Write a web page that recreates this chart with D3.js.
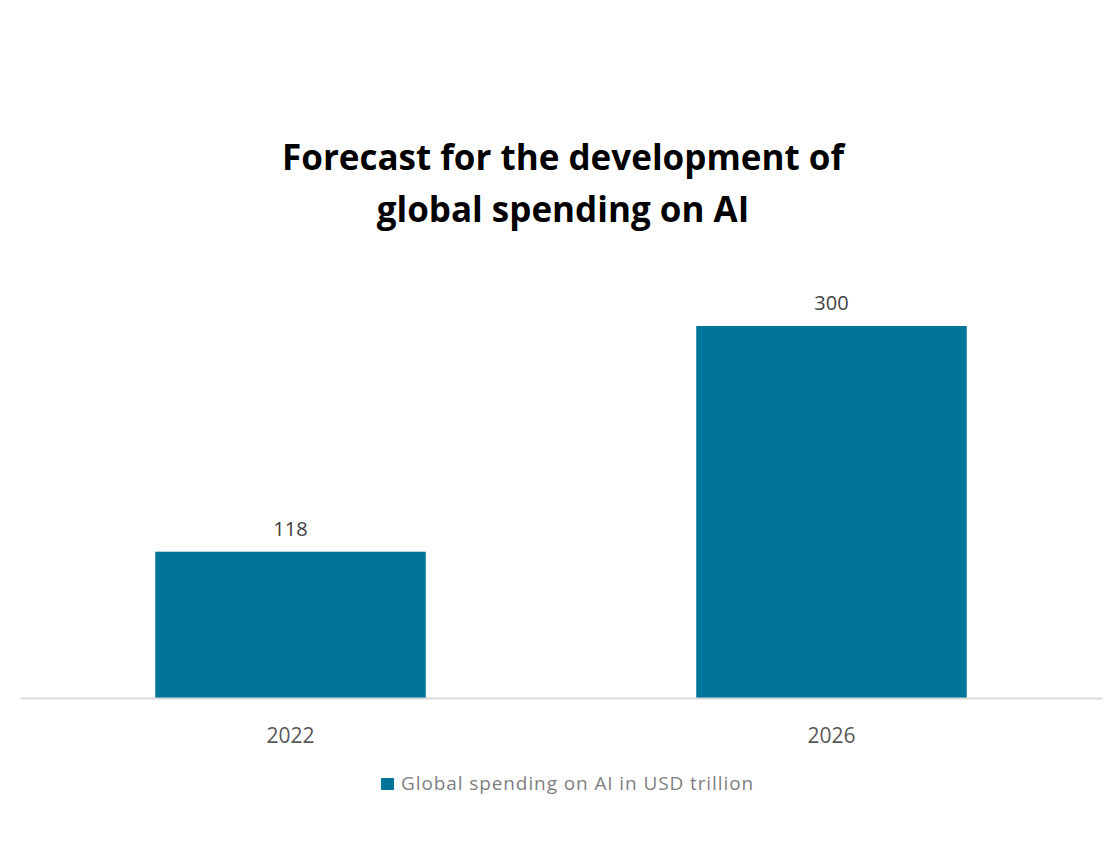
<!DOCTYPE html>
<html>
<head>
<meta charset="utf-8">
<script src="https://cdn.jsdelivr.net/npm/d3@7"></script>
<style>
  html, body { margin: 0; padding: 0; background: #fff; }
  svg { display: block; }
</style>
</head>
<body>
<div id="chart"></div>
<script>
// Chart data
const categories = ["2022", "2026"];
const spending = [118, 300];
const seriesName = "Global spending on AI in USD trillion";
const titleLines = ["Forecast for the development of", "global spending on AI"];

const W = 1107, H = 858;
const barColor = "#00759a";

const svg = d3.select("#chart").append("svg")
  .attr("width", W).attr("height", H);

const x = d3.scaleBand()
  .domain(categories)
  .range([20, 1102])
  .paddingInner(0.5)
  .paddingOuter(0.25);

const y = d3.scaleLinear()
  .domain([0, 300])
  .range([698, 326]);

// Title
const title = svg.append("text")
  .attr("text-anchor", "middle")
  .attr("font-family", "'Open Sans', sans-serif")
  .attr("font-weight", 700)
  .attr("font-size", 35)
  .attr("fill", "#000");
titleLines.forEach((line, i) => {
  title.append("tspan")
    .attr("x", 563)
    .attr("y", 170 + i * 52)
    .text(line);
});

// Bars
svg.selectAll("rect.bar")
  .data(categories.map((c, i) => ({ c, v: spending[i] })))
  .join("rect")
  .attr("class", "bar")
  .attr("x", d => x(d.c))
  .attr("width", x.bandwidth())
  .attr("y", d => y(d.v))
  .attr("height", d => y(0) - y(d.v))
  .attr("fill", barColor);

// Value labels
svg.selectAll("text.val")
  .data(categories.map((c, i) => ({ c, v: spending[i] })))
  .join("text")
  .attr("class", "val")
  .attr("x", d => x(d.c) + x.bandwidth() / 2)
  .attr("y", d => y(d.v) - 16)
  .attr("text-anchor", "middle")
  .attr("font-family", "'Open Sans', sans-serif")
  .attr("font-size", 20)
  .attr("fill", "#404040")
  .text(d => d.v);

// Category axis
const axis = svg.append("g")
  .attr("transform", `translate(0,${y(0)})`)
  .call(d3.axisBottom(x).tickSize(0).tickPadding(30).tickSizeOuter(0));
axis.select(".domain").attr("stroke", "#d9d9d9").attr("stroke-width", 2);
axis.selectAll("text")
  .attr("font-family", "'Open Sans', sans-serif")
  .attr("font-size", 21)
  .attr("fill", "#595959");

// Legend
const legend = svg.append("g").attr("transform", "translate(381,778)");
legend.append("rect")
  .attr("width", 13).attr("height", 12)
  .attr("fill", barColor);
legend.append("text")
  .attr("x", 20).attr("y", 12)
  .attr("font-family", "'Open Sans', sans-serif")
  .attr("font-size", 19)
  .attr("letter-spacing", 0.9)
  .attr("fill", "#7f7f7f")
  .text(seriesName);
</script>
</body>
</html>
